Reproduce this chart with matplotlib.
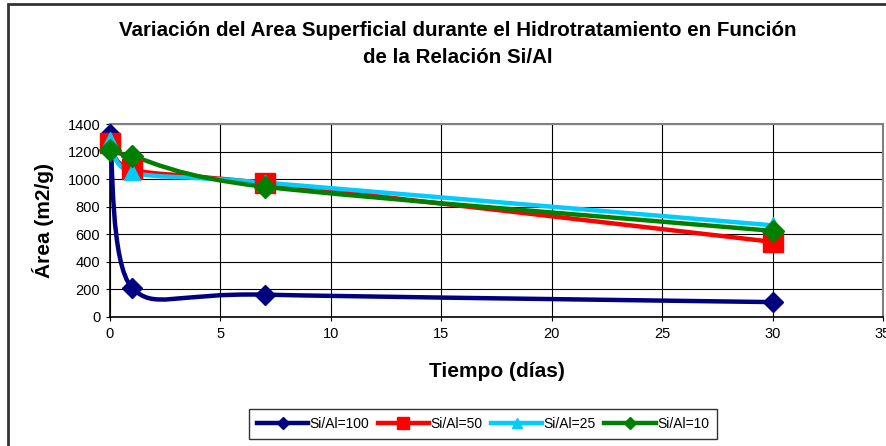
import numpy as np
import matplotlib
matplotlib.use("Agg")
import matplotlib.pyplot as plt
from matplotlib.path import Path
from matplotlib.patches import PathPatch, Rectangle
from matplotlib.lines import Line2D

plt.rcParams['font.family'] = ['Liberation Sans', 'DejaVu Sans']

# datos
tiempo = [0, 1, 7, 30]
si_al_100 = [1330, 212, 162, 108]
si_al_50 = [1265, 1070, 970, 545]
si_al_25 = [1285, 1050, 975, 665]
si_al_10 = [1210, 1165, 945, 625]

series = [
    ("Si/Al=100", si_al_100, "#000080", "D", 10, 6),
    ("Si/Al=50", si_al_50, "#ff0000", "s", 14, 8),
    ("Si/Al=25", si_al_25, "#00ccff", "^", 12, 7),
    ("Si/Al=10", si_al_10, "#008000", "D", 11, 6),
]


def smooth_path(x, y, k=1 / 7.0):
    # curva suavizada tipo Excel (bezier, catmull-rom)
    p = np.column_stack([x, y]).astype(float)
    n = len(p)
    verts = [p[0]]
    codes = [Path.MOVETO]
    for i in range(n - 1):
        a = p[i - 1] if i > 0 else p[i]
        b = p[i + 2] if i + 2 < n else p[i + 1]
        c1 = p[i] + (p[i + 1] - a) * k
        c2 = p[i + 1] - (b - p[i]) * k
        verts += [c1, c2, p[i + 1]]
        codes += [Path.CURVE4] * 3
    return Path(verts, codes)


fig = plt.figure(figsize=(8.86, 4.46), dpi=100)
ax = fig.add_axes([110 / 886, 1 - 317 / 446, 773 / 886, 193 / 446])

for name, vals, col, mk, ms, lms in series:
    patch = PathPatch(smooth_path(tiempo, vals), facecolor='none',
                      edgecolor=col, lw=3.2, zorder=3, capstyle='round')
    ax.add_patch(patch)
    ax.plot(tiempo, vals, linestyle='none', marker=mk, color=col,
            markersize=ms, zorder=4, clip_on=False)

ax.set_xlim(0, 35)
ax.set_ylim(0, 1400)
ax.set_xticks(range(0, 36, 5))
ax.set_yticks(range(0, 1401, 200))
ax.grid(True, color='black', lw=0.8)
ax.set_axisbelow(True)
for s in ['top', 'right']:
    ax.spines[s].set_color('#808080')
    ax.spines[s].set_linewidth(1.5)
for s in ['left', 'bottom']:
    ax.spines[s].set_color('black')
    ax.spines[s].set_linewidth(1.2)
ax.tick_params(direction='out', length=3, labelsize=10.5, pad=4)

ax.set_xlabel('Tiempo (días)', fontsize=15, fontweight='bold', labelpad=15)
ax.set_ylabel('Área (m2/g)', fontsize=15, fontweight='bold', labelpad=10)

fig.text(0.517, 1 - 44 / 446,
         'Variación del Area Superficial durante el Hidrotratamiento en Función\nde la Relación Si/Al',
         ha='center', va='center', fontsize=14.8, fontweight='bold', linespacing=1.55)

handles = [Line2D([], [], color=col, lw=3.2, marker=mk, markersize=lms)
           for name, vals, col, mk, ms, lms in series]
leg = fig.legend(handles, [s[0] for s in series], loc='center',
                 bbox_to_anchor=(483 / 886, 1 - 424 / 446), ncol=4,
                 fontsize=10, frameon=True, fancybox=False, handlelength=3.7,
                 columnspacing=0.6, handletextpad=0.1, borderpad=0.6)
leg.get_frame().set_edgecolor('black')
leg.get_frame().set_linewidth(1.0)

# marco del grafico
fig.add_artist(Rectangle((7.5 / 886, -0.1), 1.2, 1 - 4 / 446 + 0.1,
                         transform=fig.transFigure, fill=False,
                         edgecolor='#333333', lw=2))

fig.savefig('out.png', dpi=100)
